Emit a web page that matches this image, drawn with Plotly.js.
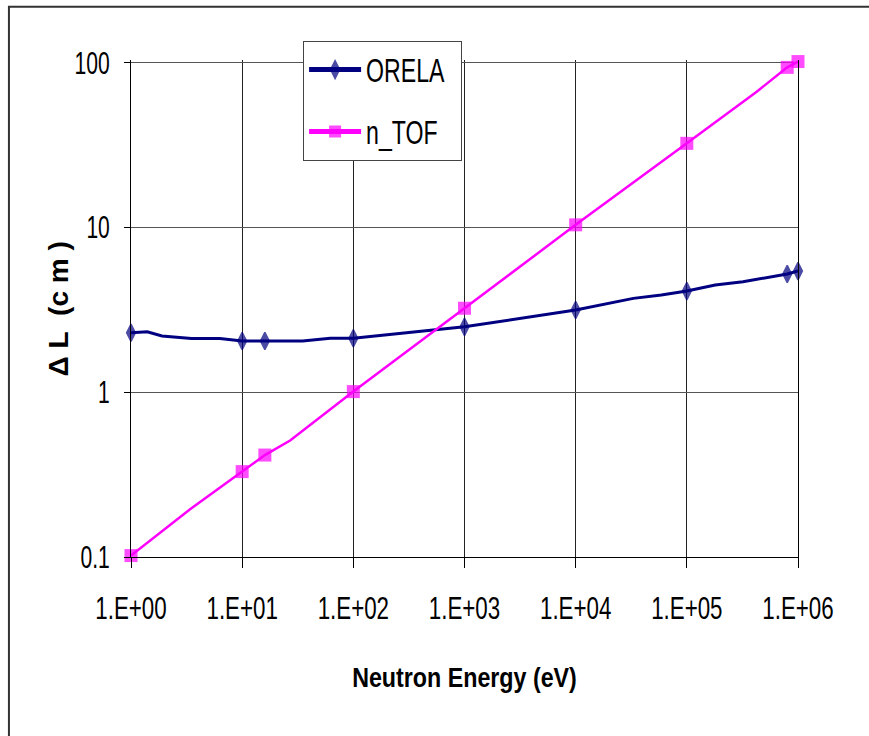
<!DOCTYPE html>
<html><head><meta charset="utf-8">
<script src="https://cdn.plot.ly/plotly-3.0.1.min.js"></script>
<style>html,body{margin:0;padding:0;background:#fff}</style>
</head><body><div id="chart" style="width:869px;height:736px"></div>
<script>
const orelaEnergy = [1, 1.4, 1.9, 3.5, 6.3, 10, 16, 35, 62, 100, 1000, 10000, 33000, 59000, 100000, 180000, 320000, 800000, 1000000];
const orelaDeltaL = [2.30, 2.33, 2.20, 2.12, 2.12, 2.05, 2.05, 2.05, 2.13, 2.13, 2.50, 3.16, 3.72, 3.90, 4.12, 4.48, 4.69, 5.23, 5.45];
const orelaMarked = [1, 0, 0, 0, 0, 1, 1, 0, 0, 1, 1, 1, 0, 0, 1, 0, 0, 1, 1];
const ntofEnergy = [1, 3.4, 10, 16, 27, 100, 1000, 10000, 100000, 425000, 800000, 1000000];
const ntofDeltaL = [0.102, 0.195, 0.33, 0.416, 0.51, 1.01, 3.24, 10.4, 32.5, 66.9, 94, 102];
const ntofMarked = [1, 0, 1, 1, 0, 1, 1, 1, 1, 0, 1, 1];
const xTickVals = [1, 10, 100, 1000, 10000, 100000, 1000000];
const xTickText = ['1.E+00', '1.E+01', '1.E+02', '1.E+03', '1.E+04', '1.E+05', '1.E+06'];
const yTickVals = [0.1, 1, 10, 100];
const yTickText = ['0.1', '1', '10', '100'];

const FONT = '"Liberation Sans", Arial, sans-serif';

const traces = [
  {
    x: orelaEnergy, y: orelaDeltaL, name: 'ORELA', type: 'scatter', mode: 'lines+markers',
    legendgroup: 'a', cliponaxis: false,
    line: {color: '#000080', width: 3},
    marker: {symbol: 'diamond-tall', color: '#000080', size: orelaMarked.map(m => m ? 12.5 : 0),
             line: {width: 1.5, color: '#000080'}}
  },
  {
    x: ntofEnergy, y: ntofDeltaL, name: 'n_TOF', type: 'scatter', mode: 'lines+markers',
    legendgroup: 'b', cliponaxis: false,
    line: {color: '#FF00FF', width: 2.5},
    marker: {symbol: 'square', color: '#FF00FF', size: ntofMarked.map(m => m ? 13 : 0), line: {width: 0}}
  }
];

const layout = {
  width: 869, height: 736,
  margin: {l: 131, r: 71, t: 60, b: 179},
  paper_bgcolor: '#fff', plot_bgcolor: '#fff',
  font: {family: FONT, color: '#000', size: 31},
  showlegend: true,
  legend: {
    x: 0.258, y: 1.039, xanchor: 'left', yanchor: 'top',
    bgcolor: '#fff', bordercolor: '#444', borderwidth: 1,
    font: {family: FONT, size: 33, color: '#000'},
    traceorder: 'grouped', tracegroupgap: 16, itemsizing: 'constant'
  },
  xaxis: {
    type: 'log', range: [0, 6],
    tickvals: xTickVals, ticktext: xTickText,
    showgrid: true, gridcolor: '#222', gridwidth: 1,
    showline: true, mirror: false, linecolor: '#000', linewidth: 1,
    ticks: 'outside', ticklen: 10, tickcolor: '#000',
    ticklabelstandoff: 14, zeroline: false,
    tickfont: {family: FONT, size: 31},
    title: {text: '<b>Neutron Energy (eV)</b>', font: {family: FONT, size: 28}, standoff: 42}
  },
  yaxis: {
    type: 'log', range: [-1, 2.018],
    tickvals: yTickVals, ticktext: yTickText,
    showgrid: true, gridcolor: '#555', gridwidth: 1,
    showline: true, mirror: true, linecolor: '#000', linewidth: 1,
    ticks: 'outside', ticklen: 6, tickcolor: '#000',
    ticklabelstandoff: 8, zeroline: false,
    tickfont: {family: FONT, size: 31}
  },
  annotations: [
    {text: '<b>\u0394 L\u00a0\u00a0(c m )</b>', xref: 'paper', yref: 'paper', x: -0.108, y: 0.5,
     xanchor: 'center', yanchor: 'middle', textangle: -90, showarrow: false,
     font: {family: FONT, size: 28, color: '#000'}}
  ],
  shapes: [
    {type: 'rect', xref: 'paper', yref: 'paper', x0: -0.183, x1: 1.5, y0: -1, y1: 1.107,
     line: {color: '#333', width: 2}, fillcolor: 'rgba(0,0,0,0)', layer: 'below'}
  ]
};

function squeeze(selector, factor) {
  document.querySelectorAll(selector).forEach(function (t) {
    const w = t.getComputedTextLength();
    if (w > 0) {
      t.setAttribute('textLength', (w * factor).toFixed(1));
      t.setAttribute('lengthAdjust', 'spacingAndGlyphs');
    }
  });
}

Plotly.newPlot('chart', traces, layout, {displayModeBar: false, staticPlot: true}).then(function () {
  squeeze('.xtick text', 0.72);
  squeeze('.ytick text', 0.68);
  squeeze('.g-xtitle text', 0.83);
  squeeze('.legendtext', 0.7);
  document.querySelectorAll('.legendtext').forEach(function (t) {
    const x = parseFloat(t.getAttribute('x') || '40');
    t.setAttribute('x', x + 22);
  });
  document.querySelectorAll('.legendlines path').forEach(function (p) {
    p.setAttribute('d', 'M5,0h52');
  });
  document.querySelectorAll('.legendpoints path').forEach(function (p) {
    p.setAttribute('transform', 'translate(31,0)');
  });
});
</script></body></html>
